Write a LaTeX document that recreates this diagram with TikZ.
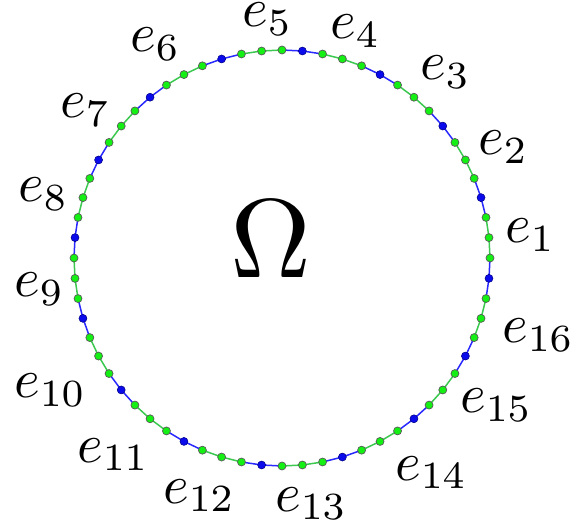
\documentclass[tikz,border=0pt]{standalone}
\usepackage{graphicx}
\usetikzlibrary{backgrounds}
\definecolor{gdot}{RGB}{20,240,20}
\definecolor{bdot}{RGB}{10,10,235}
\definecolor{gline}{RGB}{60,200,80}
\definecolor{bline}{RGB}{40,40,255}
\tikzset{
  gpt/.style={circle,fill=gdot,draw=black!65,line width=0.7pt,inner sep=0pt,minimum size=8pt},
  bpt/.style={circle,fill=bdot,draw=blue!50!black,line width=0.5pt,inner sep=0pt,minimum size=8pt},
  gseg/.style={gline,line width=1.5pt},
  bseg/.style={bline,line width=1.5pt},
  lab/.style={anchor=base west,inner sep=0pt},
  omg/.style={anchor=base,inner sep=0pt},
}
\begin{document}
\begin{tikzpicture}[x=1pt,y=-1pt]
\useasboundingbox (0,0) rectangle (576,529);
\foreach \j in {0,...,63}{
  \pgfmathtruncatemacro{\m}{mod(\j,4)}
  \ifnum\m=3 \def\st{bpt}\else\def\st{gpt}\fi
  \node[\st] (p\j) at ({282+208*cos(5.625*\j)},{258-208*sin(5.625*\j)}) {};
}
\begin{scope}[on background layer]
\foreach \j in {0,...,63}{
  \pgfmathtruncatemacro{\k}{mod(\j+1,64)}
  \pgfmathtruncatemacro{\a}{mod(\j,4)}
  \pgfmathtruncatemacro{\b}{mod(\k,4)}
  \ifnum\a=3 \def\sg{bseg}\else\ifnum\b=3 \def\sg{bseg}\else\def\sg{gseg}\fi\fi
  \draw[\sg] (p\j.center) -- (p\k.center);
}
\end{scope}
\foreach \i/\x/\y in {1/505/243, 2/478/155, 3/420/80, 4/330/39, 5/242/27, 6/130/52, 7/60/118, 8/18/202, 9/14/297, 10/14/398, 11/77/462, 12/163/503, 13/275/511, 14/395/480, 15/460/413, 16/502/343}{
  \node[lab] (e\i) at (\x,\y) {\scalebox{5.5}{$e_{\i}$}};
}
\node[omg] (omega) at (271,278) {\scalebox{11.2}{$\Omega$}};
\end{tikzpicture}
\end{document}
